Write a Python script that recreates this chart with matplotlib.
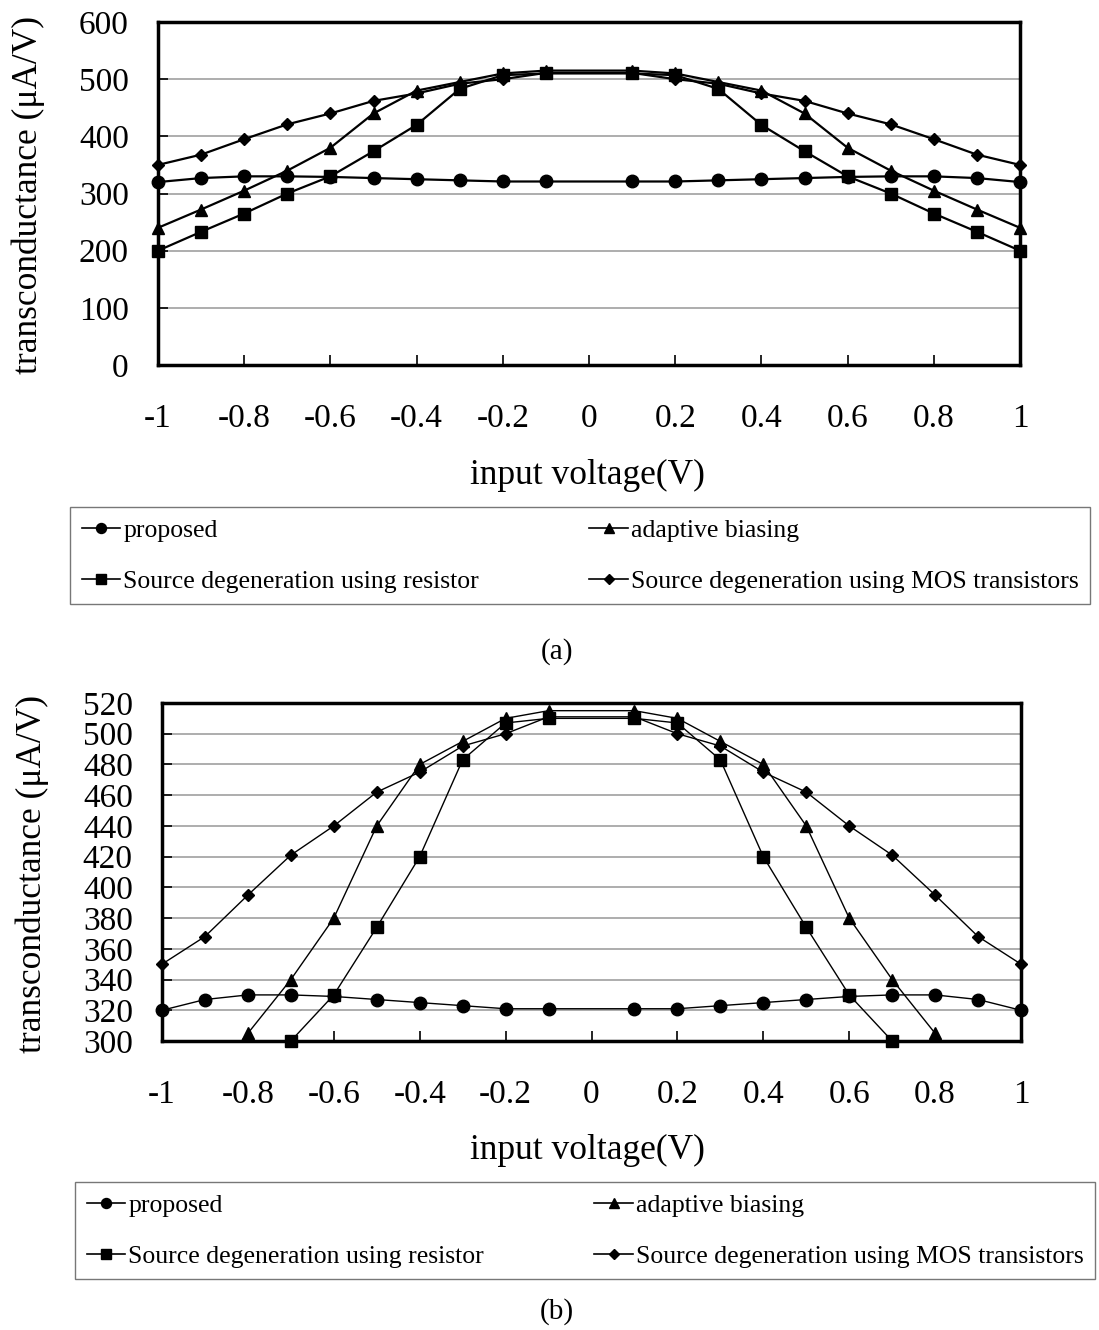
import matplotlib
matplotlib.use("Agg")
import matplotlib.pyplot as plt
import numpy as np

plt.rcParams['font.family'] = ['Liberation Serif', 'DejaVu Serif']

# input voltage (V); no sample at 0
vin = [-1, -0.9, -0.8, -0.7, -0.6, -0.5, -0.4, -0.3, -0.2, -0.1,
       0.1, 0.2, 0.3, 0.4, 0.5, 0.6, 0.7, 0.8, 0.9, 1]

# transconductance (uA/V)
proposed = [320, 327, 330, 330, 329, 327, 325, 323, 321, 321,
            321, 321, 323, 325, 327, 329, 330, 330, 327, 320]
adaptive = [240, 272, 305, 340, 380, 440, 480, 495, 510, 515,
            515, 510, 495, 480, 440, 380, 340, 305, 272, 240]
resistor = [200, 233, 265, 300, 330, 374, 420, 483, 507, 510,
            510, 507, 483, 420, 374, 330, 300, 265, 233, 200]
mos = [350, 368, 395, 421, 440, 462, 475, 492, 500, 511,
       511, 500, 492, 475, 462, 440, 421, 395, 368, 350]

series = [
    ("proposed", proposed, "o", 9),
    ("Source degeneration using resistor", resistor, "s", 8.5),
    ("adaptive biasing", adaptive, "^", 8.5),
    ("Source degeneration using MOS transistors", mos, "D", 6.5),
]

xticks = [-1, -0.8, -0.6, -0.4, -0.2, 0, 0.2, 0.4, 0.6, 0.8, 1]
xticklabels = ["-1", "-0.8", "-0.6", "-0.4", "-0.2", "0", "0.2", "0.4", "0.6", "0.8", "1"]

W, H = 1099, 1330
fig = plt.figure(figsize=(W / 100, H / 100), dpi=100)


def panel(rect, ylim, ystep, lw, ylab_x, ylab_y, xlab_y, leg_xy, tag_y, tag):
    ax = fig.add_axes(rect)
    x = np.array(vin)
    for name, vals, mk, ms in series:
        v = np.array(vals)
        ax.plot(x, v, color="black", lw=lw, zorder=3)
        inside = v >= ylim[0]
        ax.plot(x[inside], v[inside], ls="none", marker=mk, ms=ms,
                color="black", clip_on=False, zorder=4)
    ax.set_xlim(-1, 1)
    ax.set_ylim(*ylim)
    ax.set_yticks(np.arange(ylim[0], ylim[1] + 1, ystep))
    ax.set_xticks(xticks)
    ax.set_xticklabels(xticklabels)
    ax.yaxis.grid(True, color="#a0a0a0", lw=1.2)
    ax.set_axisbelow(True)
    for s in ax.spines.values():
        s.set_linewidth(2.5)
    ax.tick_params(axis="x", direction="in", length=7, width=1.2,
                   labelsize=24, pad=28)
    ax.tick_params(axis="y", direction="in", length=7, width=1.2,
                   labelsize=24, pad=21)
    fig.text(ylab_x / W, 1 - ylab_y / H, "transconductance (\u03bcA/V)",
             rotation=90, ha="center", va="center", fontsize=25.5)
    fig.text(587 / W, 1 - xlab_y / H, "input voltage(V)",
             ha="center", va="center", fontsize=25.5)
    leg = fig.legend(
        [plt.Line2D([], [], color="black", lw=1.2, marker=mk, ms=ms * 0.8)
         for _, _, mk, ms in series],
        [s[0] for s in series], ncol=2,
        bbox_to_anchor=(leg_xy[0] / W, 1 - leg_xy[1] / H),
        loc="upper left", fontsize=18.5, frameon=True, fancybox=False,
        handlelength=1.5, handletextpad=0.12, labelspacing=1.1,
        columnspacing=4.3, borderaxespad=0, borderpad=0.45)
    leg.get_frame().set_edgecolor("#555555")
    leg.get_frame().set_linewidth(1.0)
    fig.text(557 / W, 1 - tag_y / H, tag, ha="center", va="center", fontsize=21)
    return ax


panel([158 / W, 1 - 365 / H, 862 / W, 343 / H], (0, 600), 100, 1.6,
      28, 195, 475, (70, 507), 652, "(a)")
panel([162 / W, 1 - 1041 / H, 859 / W, 338 / H], (300, 520), 20, 1.0,
      32, 874, 1150, (75, 1182), 1312, "(b)")

fig.savefig("out.png", dpi=100)
